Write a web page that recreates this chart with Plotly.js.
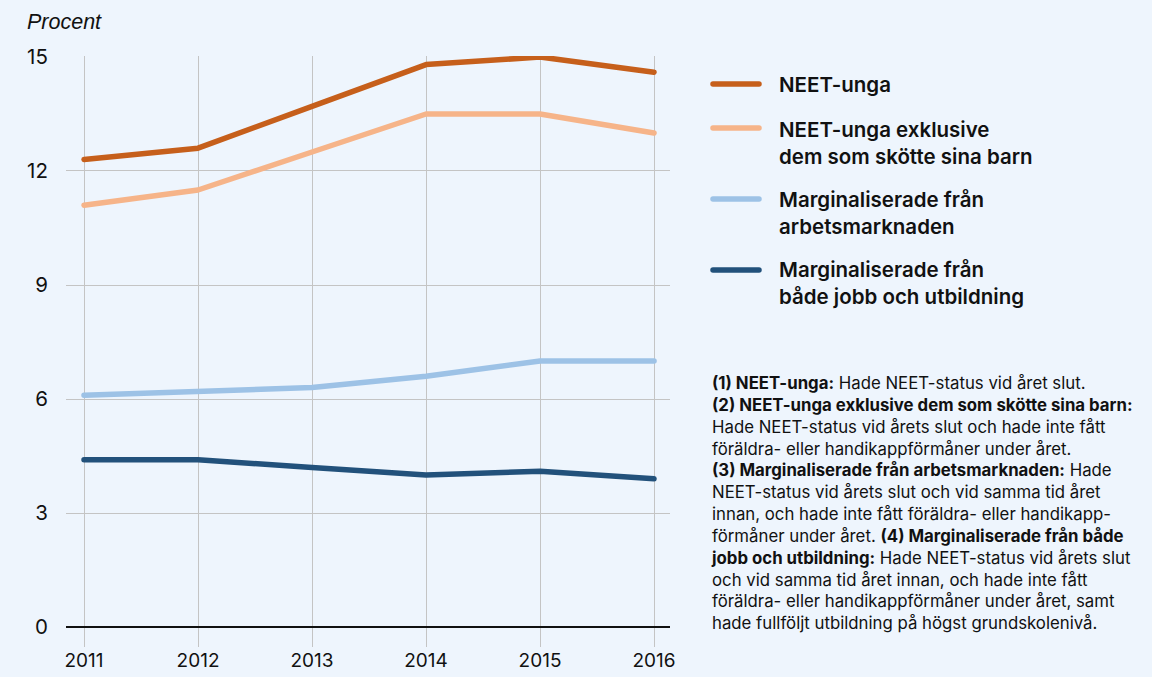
<!DOCTYPE html>
<html>
<head>
<meta charset="utf-8">
<script src="https://cdn.plot.ly/plotly-3.0.1.min.js"></script>
<style>
html,body{margin:0;padding:0;background:#EEF5FD;}
#chart{width:1152px;height:677px;}
path.js-line{stroke-linecap:round;stroke-linejoin:round;}
.shapelayer path{stroke-linecap:round;}
</style>
</head>
<body>
<div id="chart"></div>
<script>
const years = [2011, 2012, 2013, 2014, 2015, 2016];
const seriesNames = [
  "NEET-unga",
  "NEET-unga exklusive<br>dem som skötte sina barn",
  "Marginaliserade från<br>arbetsmarknaden",
  "Marginaliserade från<br>både jobb och utbildning"
];
const neetUnga = [12.3, 12.6, 13.7, 14.8, 15.0, 14.6];
const neetExkl = [11.1, 11.5, 12.5, 13.5, 13.5, 13.0];
const margArbets = [6.1, 6.2, 6.3, 6.6, 7.0, 7.0];
const margBada = [4.4, 4.4, 4.2, 4.0, 4.1, 3.9];
const yTicks = [0, 3, 6, 9, 12, 15];
const colors = ["#C65F1B", "#F6B489", "#9DC2E6", "#22517B"];
const notesText =
  "<b>(1) NEET-unga:</b> Hade NEET-status vid året slut.<br>" +
  "<b>(2) NEET-unga exklusive dem som skötte sina barn:</b><br>" +
  "Hade NEET-status vid årets slut och hade inte fått<br>" +
  "föräldra- eller handikappförmåner under året.<br>" +
  "<b>(3) Marginaliserade från arbetsmarknaden:</b> Hade<br>" +
  "NEET-status vid årets slut och vid samma tid året<br>" +
  "innan, och hade inte fått föräldra- eller handikapp-<br>" +
  "förmåner under året. <b>(4) Marginaliserade från både<br>" +
  "jobb och utbildning:</b> Hade NEET-status vid årets slut<br>" +
  "och vid samma tid året innan, och hade inte fått<br>" +
  "föräldra- eller handikappförmåner under året, samt<br>" +
  "hade fullföljt utbildning på högst grundskolenivå.";

const allSeries = [neetUnga, neetExkl, margArbets, margBada];

// plot-area geometry (pixels)
const L = 66, R = 670, T = 56, B = 647, W = 1152, H = 677;
const px = x => (x - L) / (R - L);
const py = y => (B - y) / (B - T);

const traces = allSeries.map((vals, i) => ({
  x: years, y: vals, type: "scatter", mode: "lines",
  name: seriesNames[i].replace("<br>", " "),
  line: {color: colors[i], width: 5.5},
  showlegend: false, hoverinfo: "skip"
}));

// manual legend
const legLineY = [84, 128, 199, 270];
const legTextY = [84, 143, 213, 283];
const shapes = legLineY.map((y, i) => ({
  type: "line", xref: "paper", yref: "paper",
  x0: px(713), x1: px(759), y0: py(y), y1: py(y),
  line: {color: colors[i], width: 5.5}
}));

const annotations = seriesNames.map((n, i) => ({
  xref: "paper", yref: "paper", x: px(777), y: py(legTextY[i]),
  xanchor: "left", yanchor: "middle", align: "left", showarrow: false,
  text: n,
  font: {family: "Inter, 'Noto Sans', sans-serif", size: 20.5, color: "#111", weight: 600}
}));
annotations.push({
  xref: "paper", yref: "paper", x: px(709), y: py(502.5),
  xanchor: "left", yanchor: "middle", align: "left", showarrow: false,
  text: notesText,
  font: {family: "Inter, 'Noto Sans', sans-serif", size: 16.8, color: "#111"}
});
annotations.push({
  xref: "paper", yref: "paper", x: px(25), y: py(22),
  xanchor: "left", yanchor: "middle", showarrow: false,
  text: "Procent",
  font: {family: "'Liberation Sans', Arial, sans-serif", size: 21.5, color: "#111", style: "italic"}
});

const layout = {
  width: W, height: H,
  margin: {l: L, r: W - R, t: T, b: H - B, pad: 0},
  paper_bgcolor: "#EEF5FD", plot_bgcolor: "#EEF5FD",
  showlegend: false,
  xaxis: {
    range: [2010.842, 2016.14], tickvals: years, ticktext: years.map(String),
    showgrid: true, gridcolor: "#C4C4C4", gridwidth: 1,
    zeroline: false, showline: false, ticks: "", ticklen: 0,
    tickfont: {family: "Inter, sans-serif", size: 19, color: "#111"}, fixedrange: true
  },
  yaxis: {
    range: [-0.526, 15.026], tickvals: yTicks, ticktext: yTicks.map(String),
    showgrid: true, gridcolor: "#C4C4C4", gridwidth: 1,
    zeroline: true, zerolinecolor: "#111", zerolinewidth: 2,
    showline: false, ticks: "outside", ticklen: 13, tickcolor: "rgba(0,0,0,0)",
    tickfont: {family: "Inter, sans-serif", size: 20.5, color: "#111"}, fixedrange: true
  },
  shapes: shapes,
  annotations: annotations
};

Plotly.newPlot("chart", traces, layout, {displayModeBar: false, staticPlot: true});
</script>
</body>
</html>
